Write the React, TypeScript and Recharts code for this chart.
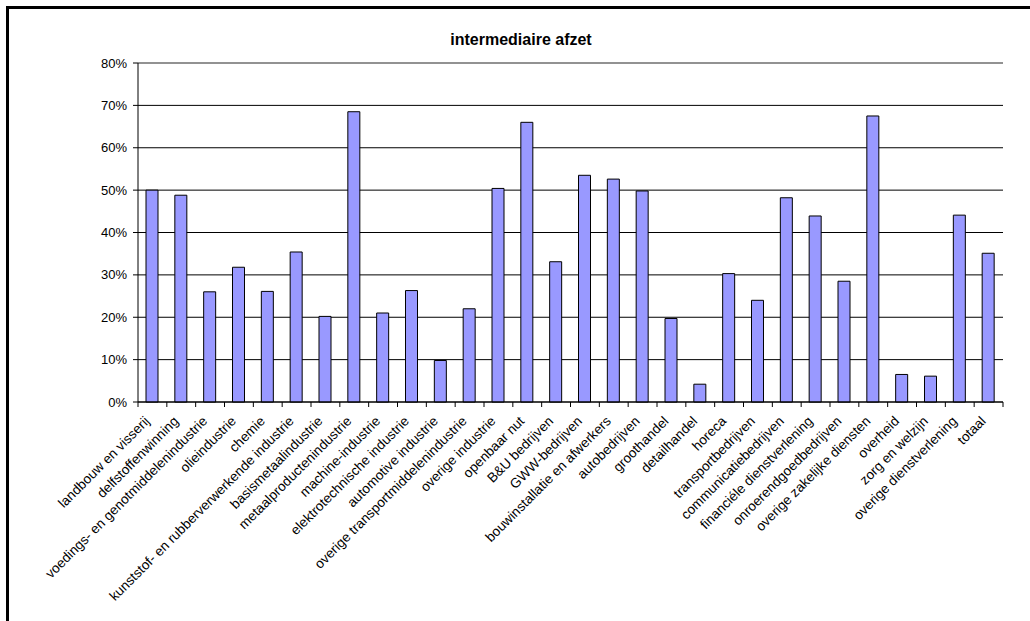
import { BarChart, Bar, XAxis, YAxis, CartesianGrid, ReferenceLine } from "recharts";

const sectors = [
  "landbouw en visserij",
  "delfstoffenwinning",
  "voedings- en genotmiddelenindustrie",
  "olieindustrie",
  "chemie",
  "kunststof- en rubberverwerkende industrie",
  "basismetaalindustrie",
  "metaalproductenindustrie",
  "machine-industrie",
  "elektrotechnische industrie",
  "automotive industrie",
  "overige transportmiddelenindustrie",
  "overige industrie",
  "openbaar nut",
  "B&U bedrijven",
  "GWW-bedrijven",
  "bouwinstallatie en afwerkers",
  "autobedrijven",
  "groothandel",
  "detailhandel",
  "horeca",
  "transportbedrijven",
  "communicatiebedrijven",
  "financiéle dienstverlening",
  "onroerendgoedbedrijven",
  "overige zakelijke diensten",
  "overheid",
  "zorg en welzijn",
  "overige dienstverlening",
  "totaal",
];

const afzet = [
  0.5, 0.488, 0.26, 0.318, 0.261, 0.354, 0.202, 0.685, 0.21, 0.263, 0.098, 0.22,
  0.504, 0.66, 0.331, 0.535, 0.526, 0.498, 0.197, 0.042, 0.303, 0.24, 0.482,
  0.439, 0.285, 0.675, 0.065, 0.061, 0.441, 0.351,
];

const yTicks = [0, 0.1, 0.2, 0.3, 0.4, 0.5, 0.6, 0.7, 0.8];

const data = sectors.map((name, i) => ({ name, value: afzet[i] }));

const W = 1030;
const H = 621;
const PLOT_LEFT = 138;
const PLOT_RIGHT = 1003;
const band = (PLOT_RIGHT - PLOT_LEFT) / sectors.length;
const font = "'Liberation Sans', Arial, sans-serif";

// Excel-style: tick marks sit between categories, labels rotated 45 degrees
const CategoryTick = (props: any) => {
  const { x, y, payload, index } = props;
  const axisY = y - 8;
  const last = index === sectors.length - 1;
  const lx = x - 2;
  const ly = axisY + 20;
  return (
    <g>
      <line x1={x - band / 2} x2={x - band / 2} y1={axisY} y2={axisY + 5} stroke="#000" />
      {last && <line x1={x + band / 2} x2={x + band / 2} y1={axisY} y2={axisY + 5} stroke="#000" />}
      <text
        x={lx}
        y={ly}
        transform={`rotate(-45, ${lx}, ${ly})`}
        textAnchor="end"
        fontSize={13.6}
        fontFamily={font}
        fill="#000"
      >
        {payload.value}
      </text>
    </g>
  );
};

export default function App() {
  return (
    <div style={{ position: "absolute", left: 0, top: 0, width: W, height: H, background: "#fff", overflow: "hidden" }}>
      <div
        style={{
          position: "absolute",
          left: 6,
          top: 6,
          width: W,
          height: H,
          border: "3px solid #000",
          boxSizing: "border-box",
        }}
      />
      <div
        style={{
          position: "absolute",
          left: 0,
          top: 31,
          width: 1042,
          textAlign: "center",
          fontFamily: font,
          fontWeight: "bold",
          fontSize: 16,
        }}
      >
        intermediaire afzet
      </div>
      <div style={{ position: "absolute", left: 0, top: 0 }}>
        <BarChart
          width={W}
          height={H}
          data={data}
          margin={{ top: 63, right: W - PLOT_RIGHT, bottom: 0, left: PLOT_LEFT - 60 }}
          barSize={12}
        >
          <CartesianGrid vertical={false} stroke="#000" strokeWidth={1} />
          <ReferenceLine y={0.8} stroke="#999" strokeWidth={1.5} />
          <XAxis
            dataKey="name"
            interval={0}
            height={219}
            axisLine={{ stroke: "#000" }}
            tickLine={false}
            tick={<CategoryTick />}
          />
          <YAxis
            width={60}
            domain={[0, 0.8]}
            ticks={yTicks}
            tickFormatter={(v: number) => `${Math.round(v * 100)}%`}
            axisLine={{ stroke: "#000" }}
            tickLine={{ stroke: "#000" }}
            tickSize={5}
            tickMargin={6}
            tick={{ fontSize: 13, fontFamily: font, fill: "#000" }}
          />
          <YAxis
            yAxisId="frame"
            orientation="right"
            width={0}
            domain={[0, 0.8]}
            tick={false}
            tickLine={false}
            axisLine={{ stroke: "#999", strokeWidth: 1.5 }}
          />
          <Bar dataKey="value" fill="#9999FF" stroke="#000" strokeWidth={1} isAnimationActive={false} />
        </BarChart>
      </div>
    </div>
  );
}
